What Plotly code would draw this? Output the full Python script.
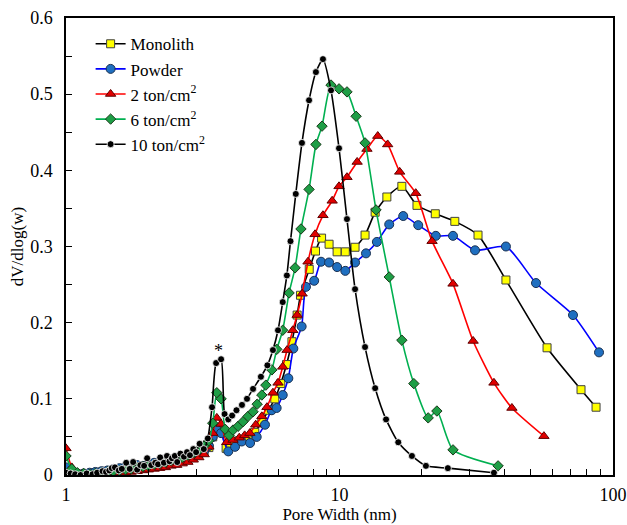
import plotly.graph_objects as go

# ---------------- data ----------------
mono_x = [1.0, 1.05, 1.1, 1.16, 1.22, 1.28, 1.35, 1.42, 1.49, 1.57, 1.65, 1.73, 1.82, 1.91, 2.0, 2.1, 2.2,
          2.31, 2.42, 2.54, 2.66, 2.79, 2.92, 3.06, 3.2, 3.33, 3.44, 3.56, 3.69, 3.85, 4.0, 4.3, 4.6, 4.9,
          5.2, 5.5, 5.8, 6.1, 6.4, 6.7, 7.0, 7.2, 7.75, 8.17, 8.6, 9.16, 9.8, 10.5, 11.4, 12.4, 13.5, 14.9,
          16.9, 19.2, 22.4, 26.4, 32.1, 40.6, 57.4, 76.4, 86.7]
mono_y = [0.006, 0.002, 0.001, 0.001, 0.002, 0.003, 0.004, 0.005, 0.006, 0.007, 0.008, 0.009, 0.010, 0.011,
          0.012, 0.013, 0.014, 0.016, 0.018, 0.019, 0.021, 0.023, 0.025, 0.028, 0.031, 0.036, 0.050, 0.062,
          0.058, 0.035, 0.040, 0.045, 0.048, 0.056, 0.070, 0.085, 0.100, 0.120, 0.145, 0.175, 0.210, 0.236,
          0.270, 0.294, 0.311, 0.303, 0.293, 0.293, 0.299, 0.315, 0.345, 0.365, 0.379, 0.354, 0.343, 0.333,
          0.315, 0.256, 0.167, 0.112, 0.089]

powder_x = [1.0, 1.05, 1.1, 1.16, 1.22, 1.28, 1.35, 1.42, 1.49, 1.57, 1.65, 1.73, 1.82, 1.91, 2.0, 2.1, 2.2,
            2.31, 2.42, 2.54, 2.66, 2.79, 2.92, 3.06, 3.2, 3.33, 3.44, 3.56, 3.69, 3.92, 4.15, 4.39, 4.71,
            4.98, 5.34, 5.65, 5.89, 6.2, 6.5, 6.78, 7.27, 7.54, 8.08, 8.56, 9.16, 9.8, 10.5, 11.4, 12.5, 13.7,
            15.2, 17.1, 19.4, 22.5, 26.0, 31.3, 40.6, 52.3, 71.4, 88.9]
powder_y = [0.010, 0.003, 0.002, 0.002, 0.003, 0.004, 0.005, 0.006, 0.008, 0.009, 0.011, 0.012, 0.013,
            0.012, 0.014, 0.016, 0.015, 0.017, 0.020, 0.021, 0.022, 0.024, 0.026, 0.029, 0.032, 0.038, 0.050,
            0.059, 0.055, 0.031, 0.037, 0.044, 0.042, 0.050, 0.066, 0.085, 0.088, 0.105, 0.127, 0.166, 0.195,
            0.247, 0.255, 0.280, 0.279, 0.273, 0.268, 0.279, 0.291, 0.306, 0.329, 0.340, 0.328, 0.314, 0.314,
            0.295, 0.300, 0.252, 0.210, 0.161]

t2_x = [1.0, 1.05, 1.1, 1.16, 1.22, 1.28, 1.35, 1.42, 1.49, 1.57, 1.65, 1.73, 1.82, 1.91, 2.0, 2.1, 2.2,
        2.31, 2.42, 2.54, 2.66, 2.79, 2.92, 3.06, 3.2, 3.33, 3.44, 3.56, 3.69, 3.87, 4.08, 4.3, 4.5, 4.7,
        4.94, 5.2, 5.43, 5.71, 5.96, 6.2, 6.43, 6.75, 7.0, 7.3, 7.67, 8.14, 8.7, 9.4, 9.96, 10.65, 11.6,
        12.6, 13.8, 15.0, 16.6, 19.0, 21.8, 26.0, 30.8, 36.7, 42.7, 55.9]
t2_y = [0.035, 0.010, 0.002, 0.000, 0.000, 0.001, 0.001, 0.002, 0.002, 0.003, 0.003, 0.004, 0.005, 0.006,
        0.007, 0.008, 0.009, 0.010, 0.012, 0.013, 0.015, 0.017, 0.020, 0.023, 0.027, 0.037, 0.055, 0.075,
        0.067, 0.043, 0.046, 0.049, 0.052, 0.055, 0.066, 0.077, 0.089, 0.108, 0.121, 0.142, 0.164, 0.190,
        0.210, 0.238, 0.280, 0.316, 0.341, 0.360, 0.379, 0.391, 0.411, 0.428, 0.445, 0.434, 0.398, 0.370,
        0.307, 0.251, 0.176, 0.121, 0.088, 0.051]

t6_x = [1.0, 1.05, 1.1, 1.16, 1.22, 1.28, 1.35, 1.42, 1.49, 1.57, 1.65, 1.73, 1.82, 1.91, 2.0, 2.1, 2.2,
        2.31, 2.42, 2.54, 2.66, 2.79, 2.92, 3.06, 3.2, 3.33, 3.44, 3.56, 3.69, 3.82, 3.95, 4.08, 4.26, 4.44,
        4.63, 4.83, 5.0, 5.2, 5.38, 5.66, 5.9, 6.2, 6.54, 6.88, 7.23, 7.74, 8.2, 8.63, 9.31, 9.96, 10.65,
        11.5, 12.4, 13.6, 15.2, 16.9, 18.7, 21.1, 22.7, 26.0, 38.0]
t6_y = [0.025, 0.008, 0.003, 0.002, 0.001, 0.002, 0.003, 0.004, 0.005, 0.006, 0.007, 0.008, 0.010, 0.011,
        0.012, 0.014, 0.015, 0.017, 0.019, 0.021, 0.023, 0.026, 0.029, 0.033, 0.038, 0.045, 0.068, 0.108,
        0.100, 0.060, 0.052, 0.059, 0.064, 0.070, 0.077, 0.083, 0.093, 0.105, 0.118, 0.138, 0.165, 0.190,
        0.239, 0.272, 0.323, 0.375, 0.434, 0.458, 0.512, 0.507, 0.503, 0.471, 0.436, 0.348, 0.260, 0.177,
        0.120, 0.075, 0.084, 0.033, 0.012]

t10_x = [1.0, 1.04, 1.08, 1.13, 1.19, 1.25, 1.30, 1.36, 1.40, 1.44, 1.47, 1.51, 1.56, 1.60, 1.66, 1.71,
         1.76, 1.82, 1.87, 1.93, 1.98, 2.05, 2.12, 2.17, 2.21, 2.28, 2.34, 2.39, 2.44, 2.50, 2.55, 2.62,
         2.70, 2.77, 2.84, 2.92, 2.99, 3.08, 3.19, 3.30, 3.42, 3.54, 3.69, 3.80, 3.92, 4.05, 4.20, 4.40,
         4.59, 4.83, 5.16, 5.45, 5.71, 5.96, 6.20, 6.42, 6.62, 6.92, 7.29, 7.74, 8.20, 8.70, 9.31, 9.96,
         10.65, 11.4, 12.4, 13.5, 14.8, 16.4, 18.4, 20.7, 24.9, 36.7]
t10_y = [0.003, 0.002, 0.001, 0.000, 0.002, 0.001, 0.003, 0.005, 0.004, 0.006, 0.009, 0.010, 0.006, 0.008,
         0.016, 0.008, 0.017, 0.007, 0.013, 0.012, 0.022, 0.013, 0.016, 0.014, 0.023, 0.016, 0.025, 0.018,
         0.022, 0.025, 0.017, 0.028, 0.024, 0.030, 0.026, 0.034, 0.030, 0.041, 0.034, 0.048, 0.089, 0.147,
         0.152, 0.080, 0.073, 0.078, 0.085, 0.092, 0.100, 0.113, 0.129, 0.144, 0.164, 0.190, 0.227, 0.262,
         0.307, 0.369, 0.436, 0.492, 0.529, 0.546, 0.505, 0.429, 0.336, 0.244, 0.168, 0.114, 0.073, 0.043,
         0.025, 0.012, 0.009, 0.003]

names = ["Monolith", "Powder", "2 ton/cm<sup>2</sup>", "6 ton/cm<sup>2</sup>", "10 ton/cm<sup>2</sup>"]

x_tickvals = [1, 2, 3, 4, 5, 6, 7, 8, 9, 10, 20, 30, 40, 50, 60, 70, 80, 90, 100]
x_ticktext = ["1", "", "", "", "", "", "", "", "", "10", "", "", "", "", "", "", "", "", "100"]
y_tickvals = [0, 0.1, 0.2, 0.3, 0.4, 0.5, 0.6]
y_ticktext = ["0", "0.1", "0.2", "0.3", "0.4", "0.5", "0.6"]

# ---------------- styles ----------------
SERIF = "Liberation Serif"
styles = [
    dict(line=dict(color="#000000", width=1.6, shape="spline", smoothing=0.6),
         marker=dict(symbol="square", size=8, color="#FFFF00", line=dict(color="#404040", width=1))),
    dict(line=dict(color="#0000FF", width=1.6, shape="spline", smoothing=0.6),
         marker=dict(symbol="circle", size=9, color="#1F6FC0", line=dict(color="#1A3050", width=1))),
    dict(line=dict(color="#FF0000", width=1.6, shape="spline", smoothing=0.6),
         marker=dict(symbol="triangle-up", size=9, color="#E00000", line=dict(color="#600000", width=1))),
    dict(line=dict(color="#00B050", width=1.6, shape="spline", smoothing=0.6),
         marker=dict(symbol="diamond", size=8, color="#1E9E46", line=dict(color="#1A3A1A", width=1))),
    dict(line=dict(color="#000000", width=1.6, shape="spline", smoothing=0.6),
         marker=dict(symbol="circle", size=7, color="#000000", line=dict(color="#FFFFFF", width=0.8))),
]

series = [(mono_x, mono_y), (powder_x, powder_y), (t2_x, t2_y), (t6_x, t6_y), (t10_x, t10_y)]

fig = go.Figure()
for (xs, ys), nm, st in zip(series, names, styles):
    fig.add_trace(go.Scatter(x=xs, y=ys, name=nm, mode="lines+markers", **st))

fig.add_annotation(x=0.556, y=0.163, xref="x", yref="y", text="*", showarrow=False,
                   font=dict(family=SERIF, size=18, color="black"))

fig.update_layout(
    width=627, height=525,
    margin=dict(l=66, r=14, t=18, b=50, autoexpand=False),
    paper_bgcolor="white", plot_bgcolor="white",
    showlegend=True,
    legend=dict(x=0.045, y=0.982, xanchor="left", yanchor="top", bgcolor="rgba(0,0,0,0)",
                font=dict(family=SERIF, size=17, color="black"), itemwidth=30, tracegroupgap=0),
    xaxis=dict(type="log", range=[0, 2], tickvals=x_tickvals, ticktext=x_ticktext,
               ticks="inside", ticklen=6, tickwidth=1, tickcolor="black", ticklabelstandoff=3,
               showline=True, linecolor="black", linewidth=1.5, mirror=True,
               showgrid=False, zeroline=False, automargin=False,
               title=dict(text="Pore Width (nm)", font=dict(family=SERIF, size=17, color="black"), standoff=4),
               tickfont=dict(family=SERIF, size=18, color="black")),
    yaxis=dict(range=[0, 0.6], tickvals=y_tickvals, ticktext=y_ticktext,
               ticks="inside", ticklen=6, tickwidth=1, tickcolor="black", ticklabelstandoff=8,
               minor=dict(ticks="inside", ticklen=6, dtick=0.05, tickcolor="black", showgrid=False),
               showline=True, linecolor="black", linewidth=1.5, mirror=True,
               showgrid=False, zeroline=False, automargin=False,
               title=dict(text="dV/dlog(w)", font=dict(family=SERIF, size=17, color="black"), standoff=2),
               tickfont=dict(family=SERIF, size=18, color="black")),
)

fig.write_html("out.html")
